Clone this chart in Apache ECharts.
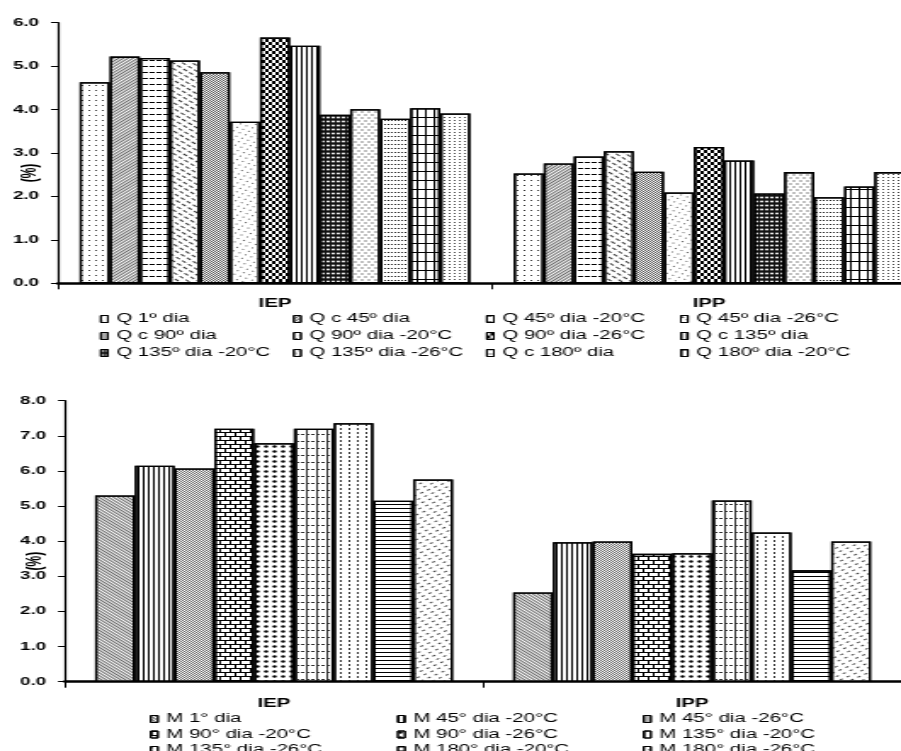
<!DOCTYPE html>
<html>
<head>
<meta charset="utf-8">
<title>IEP / IPP</title>
<script src="https://cdn.jsdelivr.net/npm/echarts@6.0.0/dist/echarts.min.js"></script>
<style>
  html, body { margin: 0; padding: 0; background: #fff; overflow: hidden; }
  #c { height: 751px; transform-origin: 0 0; }
</style>
</head>
<body>
<div id="c"></div>
<script>
// ---- data ----
const categories = ['IEP', 'IPP'];

// upper panel (Q)
const qNames = [
  'Q 1º dia', 'Q c 45º dia', 'Q 45º dia -20°C', 'Q 45º dia -26°C',
  'Q c 90º dia', 'Q 90º dia -20°C', 'Q 90º dia -26°C', 'Q c 135º dia',
  'Q 135º dia -20°C', 'Q 135º dia -26°C', 'Q c 180º dia', 'Q 180º dia -20°C',
  'Q 180º dia -26°C'
];
const qIEP = [4.63, 5.22, 5.19, 5.13, 4.86, 3.72, 5.66, 5.47, 3.88, 4.01, 3.79, 4.03, 3.91];
const qIPP = [2.53, 2.76, 2.92, 3.04, 2.57, 2.09, 3.14, 2.83, 2.07, 2.56, 1.98, 2.23, 2.56];
const qLegendCount = 12;
const qAxisMax = 6;

// lower panel (M)
const mNames = [
  'M 1° dia', 'M 45° dia -20°C', 'M 45° dia -26°C',
  'M 90° dia -20°C', 'M 90° dia -26°C', 'M 135° dia -20°C',
  'M 135° dia -26°C', 'M 180° dia -20°C', 'M 180° dia -26°C'
];
const mIEP = [5.30, 6.15, 6.07, 7.20, 6.79, 7.20, 7.36, 5.15, 5.76];
const mIPP = [2.54, 3.97, 3.99, 3.64, 3.66, 5.16, 4.25, 3.17, 3.99];
const mAxisMax = 8;

const yUnit = '(%)';

// ---- layout: the figure is drawn narrow and stretched sideways ----
const W = 901, SX = 1.7;
const X = v => v / SX;
const box = document.getElementById('c');
box.style.width = X(W) + 'px';
box.style.transform = 'scaleX(' + SX + ')';

const FONT = '"Liberation Sans", Arial, sans-serif';

// black & white fill patterns
const D = o => Object.assign({ symbol: 'rect', symbolSize: 1, color: '#000', rotation: 0 }, o);
const qDecals = [
  D({ dashArrayX: [1, 3], dashArrayY: [1, 4], color: '#333' }),
  D({ dashArrayX: [1, 0], dashArrayY: [1, 1], rotation: -Math.PI / 4, color: '#666' }),
  D({ dashArrayX: [3, 1], dashArrayY: [1, 5] }),
  D({ dashArrayX: [3, 2], dashArrayY: [1, 3], rotation: Math.PI / 4, color: '#333' }),
  D({ dashArrayX: [[1, 1], [0, 1, 1, 0]], dashArrayY: [1, 0], color: '#555' }),
  D({ dashArrayX: [1, 3], dashArrayY: [1, 3], rotation: Math.PI / 6, color: '#555' }),
  D({ dashArrayX: [[2, 2], [0, 2, 2, 0]], dashArrayY: [3, 0] }),
  D({ dashArrayX: [1, 2], dashArrayY: [4, 0] }),
  D({ symbol: 'circle', dashArrayX: [2, 1], dashArrayY: [3, 1], color: '#fff', backgroundColor: '#111' }),
  D({ symbol: 'circle', symbolSize: 0.7, dashArrayX: [[2, 2], [0, 2, 2, 0]], dashArrayY: [2, 1], color: '#555' }),
  D({ dashArrayX: [1, 1], dashArrayY: [1, 3], color: '#222' }),
  D({ dashArrayX: [[8, 0], [1, 4]], dashArrayY: [1, 0, 8, 0] }),
  D({ dashArrayX: [1, 2], dashArrayY: [1, 2], color: '#444' })
];
const mDecals = [
  D({ dashArrayX: [1, 0], dashArrayY: [1, 1], rotation: Math.PI / 4, color: '#666' }),
  D({ dashArrayX: [1, 2], dashArrayY: [4, 0] }),
  D({ dashArrayX: [[1, 1], [0, 1, 1, 0]], dashArrayY: [1, 0], color: '#666' }),
  D({ dashArrayX: [[6, 0], [1, 5], [6, 0], [0, 3, 1, 2]], dashArrayY: [1, 0, 3, 0, 1, 0, 3, 0] }),
  D({ symbol: 'circle', symbolSize: 0.8, dashArrayX: [3, 2], dashArrayY: [3, 2] }),
  D({ dashArrayX: [[2, 1], [1, 5]], dashArrayY: [1, 0, 6, 0], color: '#333' }),
  D({ dashArrayX: [1, 4], dashArrayY: [2, 2], color: '#333' }),
  D({ dashArrayX: [1, 0], dashArrayY: [1, 3] }),
  D({ dashArrayX: [2, 3], dashArrayY: [1, 3], rotation: -Math.PI / 5, color: '#444' })
];

function yAxis(gridIndex, max, gap) {
  return {
    type: 'value', gridIndex, min: 0, max, interval: 1,
    name: yUnit, nameLocation: 'middle', nameRotate: 90, nameGap: X(gap), nameMoveOverlap: false,
    nameTextStyle: { fontFamily: FONT, fontWeight: 'bold', fontSize: 12, color: '#000', padding: [0, 40, 0, 0] },
    axisLine: { show: true, lineStyle: { color: '#000', width: 1.2 } },
    axisTick: { show: true, length: X(7), lineStyle: { color: '#000', width: 1 } },
    axisLabel: { margin: X(19), fontFamily: FONT, fontWeight: 'bold', fontSize: 11, color: '#000',
                 formatter: v => v.toFixed(1) },
    splitLine: { show: false }
  };
}
function xAxis(gridIndex, margin) {
  return {
    type: 'category', gridIndex, data: categories,
    axisLine: { lineStyle: { color: '#000', width: 2.5 } },
    axisTick: { show: true, length: 6, lineStyle: { color: '#000', width: 1 } },
    axisLabel: { margin, fontFamily: FONT, fontWeight: 'bold', fontSize: 12, color: '#000' }
  };
}
function legendColumns(names, cols, count, xs, top, gap) {
  const out = [];
  for (let c = 0; c < cols; c++) {
    const data = [];
    for (let i = c; i < count; i += cols) data.push(names[i]);
    out.push({
      data, orient: 'vertical', left: X(xs[c]), top, height: 60, itemGap: gap, padding: 0,
      itemWidth: X(7), itemHeight: 7, icon: 'rect', selectedMode: false,
      itemStyle: { borderWidth: 1, borderColor: '#000' },
      textStyle: { fontFamily: FONT, fontSize: 12, lineHeight: 12, color: '#000' }
    });
  }
  return out;
}
function bars(names, iep, ipp, decals, idx, catGap) {
  return names.map((n, i) => ({
    type: 'bar', name: n, xAxisIndex: idx, yAxisIndex: idx,
    data: [iep[i], ipp[i]],
    barGap: '0%', barCategoryGap: catGap,
    itemStyle: { color: '#fff', borderColor: '#000', borderWidth: 1.3, decal: decals[i] },
    emphasis: { disabled: true }
  }));
}

const chart = echarts.init(box, null, { renderer: 'canvas' });
chart.setOption({
  animation: false,
  backgroundColor: '#fff',
  grid: [
    { left: X(58), top: 22.7, width: X(926 - 58), height: 260.6, outerBoundsMode: 'none', containLabel: false },
    { left: X(65), top: 400.7, width: X(901 - 65), height: 281, outerBoundsMode: 'none', containLabel: false }
  ],
  xAxis: [xAxis(0, 14), xAxis(1, 16)],
  yAxis: [yAxis(0, qAxisMax, 17), yAxis(1, mAxisMax, 20)],
  legend: [
    ...legendColumns(qNames, 4, qLegendCount, [100, 293, 486, 680], 313, 5),
    ...legendColumns(mNames, 3, mNames.length, [150, 397, 643], 713, 3.5)
  ],
  series: [
    ...bars(qNames, qIEP, qIPP, qDecals, 0, '10%'),
    ...bars(mNames, mIEP, mIPP, mDecals, 1, '14.4%')
  ]
});
</script>
</body>
</html>
